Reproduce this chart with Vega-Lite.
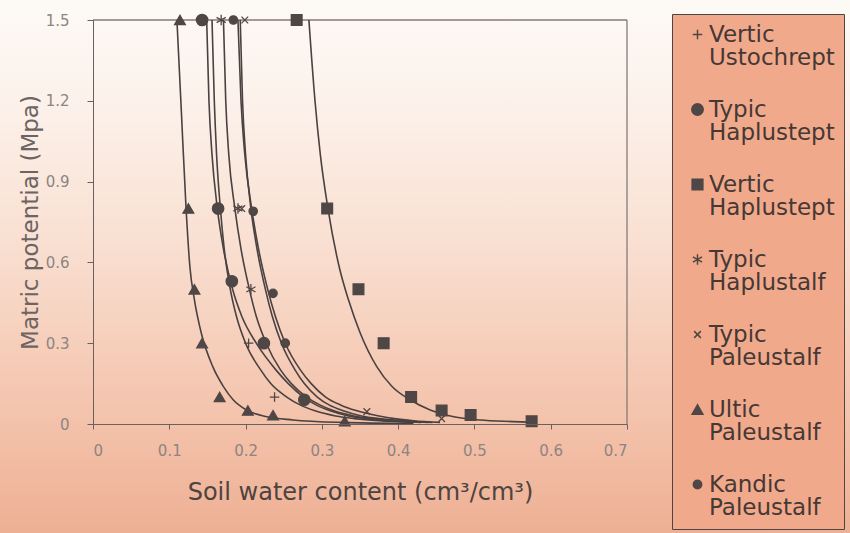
{
  "$schema": "https://vega.github.io/schema/vega-lite/v6.json",
  "width": 850,
  "height": 533,
  "autosize": {"type": "none"},
  "padding": 0,
  "background": "#f6d3c1",
  "config": {
    "view": {"stroke": null},
    "font": "DejaVu Sans",
    "style": {"guide-label": {"lineHeight": 23.5}}
  },
  "datasets": {
    "points": [
      {"soil": "Ultic Paleustalf", "theta": 0.114, "psi": 1.5},
      {"soil": "Ultic Paleustalf", "theta": 0.125, "psi": 0.8},
      {"soil": "Ultic Paleustalf", "theta": 0.133, "psi": 0.5},
      {"soil": "Ultic Paleustalf", "theta": 0.143, "psi": 0.3},
      {"soil": "Ultic Paleustalf", "theta": 0.166, "psi": 0.1},
      {"soil": "Ultic Paleustalf", "theta": 0.203, "psi": 0.05},
      {"soil": "Ultic Paleustalf", "theta": 0.236, "psi": 0.033},
      {"soil": "Ultic Paleustalf", "theta": 0.33, "psi": 0.01},
      {"soil": "Typic Haplustept", "theta": 0.143, "psi": 1.5},
      {"soil": "Typic Haplustept", "theta": 0.164, "psi": 0.8},
      {"soil": "Typic Haplustept", "theta": 0.182, "psi": 0.53},
      {"soil": "Typic Haplustept", "theta": 0.224, "psi": 0.3},
      {"soil": "Typic Haplustept", "theta": 0.277, "psi": 0.09},
      {"soil": "Vertic Haplustept", "theta": 0.267, "psi": 1.5},
      {"soil": "Vertic Haplustept", "theta": 0.307, "psi": 0.8},
      {"soil": "Vertic Haplustept", "theta": 0.348, "psi": 0.5},
      {"soil": "Vertic Haplustept", "theta": 0.381, "psi": 0.3},
      {"soil": "Vertic Haplustept", "theta": 0.417, "psi": 0.1},
      {"soil": "Vertic Haplustept", "theta": 0.457, "psi": 0.05},
      {"soil": "Vertic Haplustept", "theta": 0.495, "psi": 0.033},
      {"soil": "Vertic Haplustept", "theta": 0.575, "psi": 0.01},
      {"soil": "Typic Haplustalf", "theta": 0.168, "psi": 1.5},
      {"soil": "Typic Haplustalf", "theta": 0.19, "psi": 0.8},
      {"soil": "Typic Haplustalf", "theta": 0.207, "psi": 0.5},
      {"soil": "Typic Paleustalf", "theta": 0.199, "psi": 1.5},
      {"soil": "Typic Paleustalf", "theta": 0.195, "psi": 0.8},
      {"soil": "Typic Paleustalf", "theta": 0.359, "psi": 0.046},
      {"soil": "Typic Paleustalf", "theta": 0.457, "psi": 0.02},
      {"soil": "Vertic Ustochrept", "theta": 0.204, "psi": 0.3},
      {"soil": "Vertic Ustochrept", "theta": 0.238, "psi": 0.1},
      {"soil": "Kandic Paleustalf", "theta": 0.184, "psi": 1.5},
      {"soil": "Kandic Paleustalf", "theta": 0.21, "psi": 0.79},
      {"soil": "Kandic Paleustalf", "theta": 0.236, "psi": 0.485},
      {"soil": "Kandic Paleustalf", "theta": 0.252, "psi": 0.3}
    ],
    "curves": [
      {"soil": "Ultic Paleustalf", "theta": 0.11, "psi": 1.5},
      {"soil": "Ultic Paleustalf", "theta": 0.116, "psi": 1.15},
      {"soil": "Ultic Paleustalf", "theta": 0.122, "psi": 0.8},
      {"soil": "Ultic Paleustalf", "theta": 0.127, "psi": 0.584},
      {"soil": "Ultic Paleustalf", "theta": 0.133, "psi": 0.46},
      {"soil": "Ultic Paleustalf", "theta": 0.142, "psi": 0.337},
      {"soil": "Ultic Paleustalf", "theta": 0.157, "psi": 0.213},
      {"soil": "Ultic Paleustalf", "theta": 0.171, "psi": 0.139},
      {"soil": "Ultic Paleustalf", "theta": 0.184, "psi": 0.089},
      {"soil": "Ultic Paleustalf", "theta": 0.201, "psi": 0.052},
      {"soil": "Ultic Paleustalf", "theta": 0.228, "psi": 0.027},
      {"soil": "Ultic Paleustalf", "theta": 0.262, "psi": 0.015},
      {"soil": "Ultic Paleustalf", "theta": 0.324, "psi": 0.006},
      {"soil": "Ultic Paleustalf", "theta": 0.42, "psi": 0.002},
      {"soil": "Typic Haplustept", "theta": 0.149, "psi": 1.5},
      {"soil": "Typic Haplustept", "theta": 0.152, "psi": 1.2},
      {"soil": "Typic Haplustept", "theta": 0.156, "psi": 1.0},
      {"soil": "Typic Haplustept", "theta": 0.163, "psi": 0.8},
      {"soil": "Typic Haplustept", "theta": 0.171, "psi": 0.65},
      {"soil": "Typic Haplustept", "theta": 0.183, "psi": 0.5},
      {"soil": "Typic Haplustept", "theta": 0.195, "psi": 0.4},
      {"soil": "Typic Haplustept", "theta": 0.214, "psi": 0.3},
      {"soil": "Typic Haplustept", "theta": 0.24, "psi": 0.2},
      {"soil": "Typic Haplustept", "theta": 0.256, "psi": 0.15},
      {"soil": "Typic Haplustept", "theta": 0.276, "psi": 0.1},
      {"soil": "Typic Haplustept", "theta": 0.293, "psi": 0.07},
      {"soil": "Typic Haplustept", "theta": 0.31, "psi": 0.05},
      {"soil": "Typic Haplustept", "theta": 0.335, "psi": 0.03},
      {"soil": "Typic Haplustept", "theta": 0.36, "psi": 0.02},
      {"soil": "Typic Haplustept", "theta": 0.39, "psi": 0.012},
      {"soil": "Typic Haplustept", "theta": 0.43, "psi": 0.006},
      {"soil": "Vertic Ustochrept", "theta": 0.156, "psi": 1.5},
      {"soil": "Vertic Ustochrept", "theta": 0.159, "psi": 1.2},
      {"soil": "Vertic Ustochrept", "theta": 0.162, "psi": 1.0},
      {"soil": "Vertic Ustochrept", "theta": 0.167, "psi": 0.8},
      {"soil": "Vertic Ustochrept", "theta": 0.172, "psi": 0.65},
      {"soil": "Vertic Ustochrept", "theta": 0.18, "psi": 0.5},
      {"soil": "Vertic Ustochrept", "theta": 0.188, "psi": 0.4},
      {"soil": "Vertic Ustochrept", "theta": 0.2, "psi": 0.3},
      {"soil": "Vertic Ustochrept", "theta": 0.22, "psi": 0.2},
      {"soil": "Vertic Ustochrept", "theta": 0.233, "psi": 0.15},
      {"soil": "Vertic Ustochrept", "theta": 0.254, "psi": 0.1},
      {"soil": "Vertic Ustochrept", "theta": 0.272, "psi": 0.07},
      {"soil": "Vertic Ustochrept", "theta": 0.29, "psi": 0.05},
      {"soil": "Vertic Ustochrept", "theta": 0.318, "psi": 0.03},
      {"soil": "Vertic Ustochrept", "theta": 0.343, "psi": 0.02},
      {"soil": "Vertic Ustochrept", "theta": 0.375, "psi": 0.012},
      {"soil": "Vertic Ustochrept", "theta": 0.42, "psi": 0.006},
      {"soil": "Typic Haplustalf", "theta": 0.171, "psi": 1.5},
      {"soil": "Typic Haplustalf", "theta": 0.174, "psi": 1.2},
      {"soil": "Typic Haplustalf", "theta": 0.178, "psi": 1.0},
      {"soil": "Typic Haplustalf", "theta": 0.186, "psi": 0.8},
      {"soil": "Typic Haplustalf", "theta": 0.194, "psi": 0.65},
      {"soil": "Typic Haplustalf", "theta": 0.205, "psi": 0.5},
      {"soil": "Typic Haplustalf", "theta": 0.214, "psi": 0.4},
      {"soil": "Typic Haplustalf", "theta": 0.227, "psi": 0.3},
      {"soil": "Typic Haplustalf", "theta": 0.246, "psi": 0.2},
      {"soil": "Typic Haplustalf", "theta": 0.26, "psi": 0.15},
      {"soil": "Typic Haplustalf", "theta": 0.28, "psi": 0.1},
      {"soil": "Typic Haplustalf", "theta": 0.298, "psi": 0.07},
      {"soil": "Typic Haplustalf", "theta": 0.315, "psi": 0.05},
      {"soil": "Typic Haplustalf", "theta": 0.342, "psi": 0.03},
      {"soil": "Typic Haplustalf", "theta": 0.366, "psi": 0.02},
      {"soil": "Typic Haplustalf", "theta": 0.395, "psi": 0.012},
      {"soil": "Typic Haplustalf", "theta": 0.44, "psi": 0.006},
      {"soil": "Kandic Paleustalf", "theta": 0.193, "psi": 1.5},
      {"soil": "Kandic Paleustalf", "theta": 0.196, "psi": 1.2},
      {"soil": "Kandic Paleustalf", "theta": 0.2, "psi": 1.0},
      {"soil": "Kandic Paleustalf", "theta": 0.207, "psi": 0.8},
      {"soil": "Kandic Paleustalf", "theta": 0.215, "psi": 0.65},
      {"soil": "Kandic Paleustalf", "theta": 0.226, "psi": 0.5},
      {"soil": "Kandic Paleustalf", "theta": 0.235, "psi": 0.4},
      {"soil": "Kandic Paleustalf", "theta": 0.247, "psi": 0.3},
      {"soil": "Kandic Paleustalf", "theta": 0.265, "psi": 0.2},
      {"soil": "Kandic Paleustalf", "theta": 0.277, "psi": 0.15},
      {"soil": "Kandic Paleustalf", "theta": 0.294, "psi": 0.1},
      {"soil": "Kandic Paleustalf", "theta": 0.31, "psi": 0.07},
      {"soil": "Kandic Paleustalf", "theta": 0.327, "psi": 0.05},
      {"soil": "Kandic Paleustalf", "theta": 0.352, "psi": 0.03},
      {"soil": "Kandic Paleustalf", "theta": 0.375, "psi": 0.02},
      {"soil": "Kandic Paleustalf", "theta": 0.405, "psi": 0.012},
      {"soil": "Kandic Paleustalf", "theta": 0.445, "psi": 0.006},
      {"soil": "Typic Paleustalf", "theta": 0.19, "psi": 1.5},
      {"soil": "Typic Paleustalf", "theta": 0.194, "psi": 1.2},
      {"soil": "Typic Paleustalf", "theta": 0.199, "psi": 1.0},
      {"soil": "Typic Paleustalf", "theta": 0.208, "psi": 0.8},
      {"soil": "Typic Paleustalf", "theta": 0.217, "psi": 0.65},
      {"soil": "Typic Paleustalf", "theta": 0.229, "psi": 0.5},
      {"soil": "Typic Paleustalf", "theta": 0.239, "psi": 0.4},
      {"soil": "Typic Paleustalf", "theta": 0.252, "psi": 0.3},
      {"soil": "Typic Paleustalf", "theta": 0.272, "psi": 0.2},
      {"soil": "Typic Paleustalf", "theta": 0.286, "psi": 0.15},
      {"soil": "Typic Paleustalf", "theta": 0.305, "psi": 0.1},
      {"soil": "Typic Paleustalf", "theta": 0.325, "psi": 0.07},
      {"soil": "Typic Paleustalf", "theta": 0.345, "psi": 0.05},
      {"soil": "Typic Paleustalf", "theta": 0.375, "psi": 0.03},
      {"soil": "Typic Paleustalf", "theta": 0.395, "psi": 0.02},
      {"soil": "Typic Paleustalf", "theta": 0.42, "psi": 0.012},
      {"soil": "Typic Paleustalf", "theta": 0.455, "psi": 0.006},
      {"soil": "Vertic Haplustept", "theta": 0.283, "psi": 1.5},
      {"soil": "Vertic Haplustept", "theta": 0.291, "psi": 1.2},
      {"soil": "Vertic Haplustept", "theta": 0.298, "psi": 1.0},
      {"soil": "Vertic Haplustept", "theta": 0.308, "psi": 0.8},
      {"soil": "Vertic Haplustept", "theta": 0.323, "psi": 0.58},
      {"soil": "Vertic Haplustept", "theta": 0.335, "psi": 0.46},
      {"soil": "Vertic Haplustept", "theta": 0.35, "psi": 0.34},
      {"soil": "Vertic Haplustept", "theta": 0.372, "psi": 0.213},
      {"soil": "Vertic Haplustept", "theta": 0.392, "psi": 0.139},
      {"soil": "Vertic Haplustept", "theta": 0.416, "psi": 0.089},
      {"soil": "Vertic Haplustept", "theta": 0.442, "psi": 0.052},
      {"soil": "Vertic Haplustept", "theta": 0.473, "psi": 0.027},
      {"soil": "Vertic Haplustept", "theta": 0.507, "psi": 0.015},
      {"soil": "Vertic Haplustept", "theta": 0.551, "psi": 0.009},
      {"soil": "Vertic Haplustept", "theta": 0.58, "psi": 0.006}
    ]
  },
  "layer": [
    {
      "data": {"values": [{}]},
      "mark": {
        "type": "rect",
        "color": {
          "gradient": "linear",
          "x1": 0, "y1": 0, "x2": 0, "y2": 1,
          "stops": [
            {"offset": 0, "color": "#fdfaf6"},
            {"offset": 0.2, "color": "#fcf1ea"},
            {"offset": 0.45, "color": "#f9e0d2"},
            {"offset": 0.7, "color": "#f5cab5"},
            {"offset": 0.85, "color": "#f2bda4"},
            {"offset": 1, "color": "#eeb094"}
          ]
        }
      },
      "encoding": {}
    },
    {
      "data": {"values": [{}]},
      "mark": {"type": "rule", "color": "#857b78", "strokeWidth": 1.3},
      "encoding": {
        "x": {"datum": 0},
        "x2": {"datum": 0.7},
        "y": {"datum": 1.5}
      }
    },
    {
      "data": {"values": [{}]},
      "mark": {"type": "rule", "color": "#857b78", "strokeWidth": 1.3},
      "encoding": {
        "x": {"datum": 0.7},
        "y": {"datum": 0},
        "y2": {"datum": 1.5}
      }
    },
    {
      "data": {"name": "curves"},
      "mark": {"type": "line", "interpolate": "monotone", "color": "#4a4141", "strokeWidth": 1.6},
      "encoding": {
        "x": {
          "field": "theta", "type": "quantitative",
          "scale": {"domain": [0, 0.7], "range": [93, 627], "nice": false, "zero": false},
          "axis": {
            "orient": "bottom", "offset": -109, "zindex": 1,
            "values": [0, 0.1, 0.2, 0.3, 0.4, 0.5, 0.6, 0.7],
            "format": "~g", "grid": false,
            "domainColor": "#6a6060", "tickColor": "#6a6060", "tickSize": 5,
            "labelColor": "#8c8582", "labelFontSize": 15, "labelPadding": 14,
            "title": "Soil water content (cm³/cm³)",
            "titleFontSize": 24, "titleFontWeight": "normal", "titleColor": "#4d4341", "titlePadding": 22
          }
        },
        "y": {
          "field": "psi", "type": "quantitative",
          "scale": {"domain": [0, 1.5], "range": [424, 20], "nice": false, "zero": false},
          "axis": {
            "orient": "left", "offset": -93, "zindex": 1,
            "values": [0, 0.3, 0.6, 0.9, 1.2, 1.5],
            "format": "~g", "grid": false,
            "domainColor": "#6a6060", "tickColor": "#6a6060", "tickSize": 6,
            "labelColor": "#8c8582", "labelFontSize": 15, "labelPadding": 18,
            "title": "Matric potential (Mpa)",
            "titleFontSize": 23, "titleFontWeight": "normal", "titleColor": "#6b6463", "titlePadding": 3
          }
        },
        "detail": {"field": "soil", "type": "nominal"},
        "order": {"field": "theta", "type": "quantitative"}
      }
    },
    {
      "data": {"name": "points"},
      "mark": {"type": "point", "filled": true, "opacity": 1, "color": "#4f4646", "stroke": "#4f4646", "strokeWidth": 1.3},
      "encoding": {
        "x": {"field": "theta", "type": "quantitative"},
        "y": {"field": "psi", "type": "quantitative"},
        "shape": {
          "field": "soil", "type": "nominal",
          "scale": {
            "domain": ["Vertic Ustochrept", "Typic Haplustept", "Vertic Haplustept", "Typic Haplustalf", "Typic Paleustalf", "Ultic Paleustalf", "Kandic Paleustalf"],
            "range": ["M-1,0H1M0,-1V1", "circle", "square", "M0,-1V1M-0.87,-0.5L0.87,0.5M-0.87,0.5L0.87,-0.5", "M-0.8,-0.8L0.8,0.8M-0.8,0.8L0.8,-0.8", "triangle-up", "circle"]
          },
          "legend": {
            "title": null,
            "orient": "none", "legendX": 672, "legendY": 14,
            "padding": 9,
            "fillColor": "#f1a98b", "strokeColor": "#4f4442",
            "labelExpr": "split(datum.label, ' ')",
            "labelFont": "DejaVu Sans", "labelFontSize": 23, "labelColor": "#453835",
            "labelLimit": 400, "labelOffset": 0,
            "symbolOffset": 5, "rowPadding": 28,
            "zindex": 1,
            "encode": {
              "legend": {"update": {"strokeWidth": {"value": 2}}},
              "symbols": {"update": {"stroke": {"value": "#4f4646"}, "fill": {"value": "#4f4646"}, "strokeWidth": {"value": 1.3}, "opacity": {"value": 1}}}
            }
          }
        },
        "size": {
          "field": "soil", "type": "nominal",
          "scale": {
            "type": "ordinal",
            "domain": ["Vertic Ustochrept", "Typic Haplustept", "Vertic Haplustept", "Typic Haplustalf", "Typic Paleustalf", "Ultic Paleustalf", "Kandic Paleustalf"],
            "range": [90, 130, 115, 110, 70, 115, 70]
          },
          "legend": {
            "title": null,
            "orient": "none", "legendX": 672, "legendY": 14,
            "padding": 9,
            "fillColor": "#f1a98b", "strokeColor": "#4f4442",
            "labelExpr": "split(datum.label, ' ')",
            "labelFont": "DejaVu Sans", "labelFontSize": 23, "labelColor": "#453835",
            "labelLimit": 400, "labelOffset": 0,
            "symbolOffset": 5, "rowPadding": 28,
            "zindex": 1,
            "encode": {
              "legend": {"update": {"strokeWidth": {"value": 2}}},
              "symbols": {"update": {"stroke": {"value": "#4f4646"}, "fill": {"value": "#4f4646"}, "strokeWidth": {"value": 1.3}, "opacity": {"value": 1}}}
            }
          }
        }
      }
    }
  ]
}
